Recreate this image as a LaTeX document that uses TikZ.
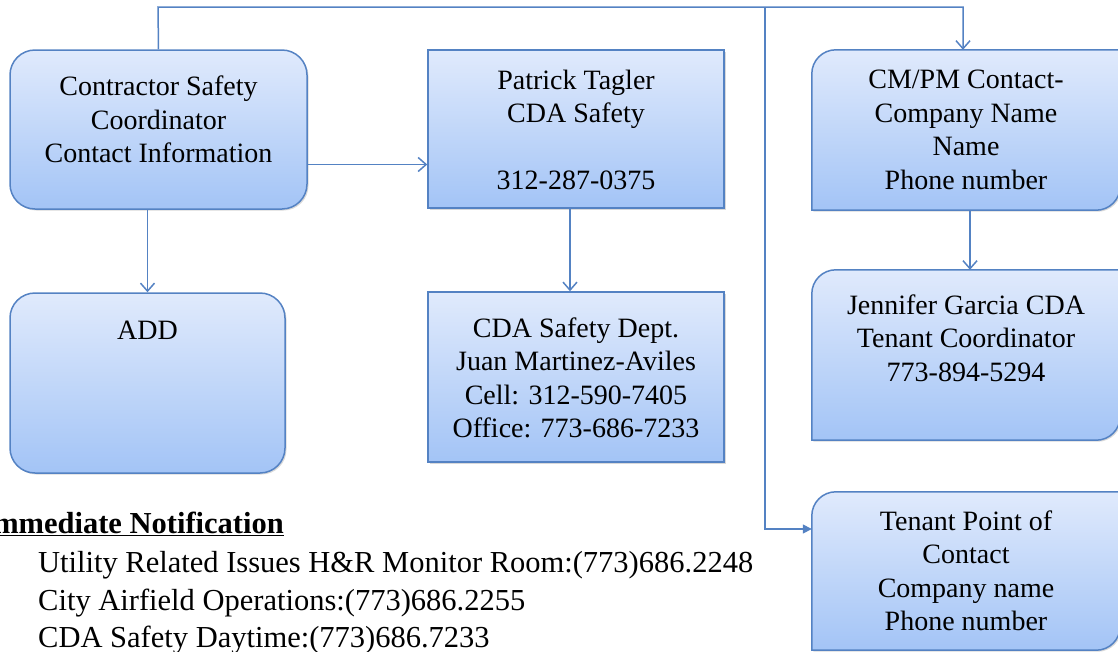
\documentclass[tikz,border=0pt]{standalone}
\usepackage{fontspec}
\setmainfont{Liberation Serif}
\usetikzlibrary{arrows.meta,shadows}

\definecolor{boxline}{RGB}{84,130,195}
\definecolor{boxtop}{RGB}{224,234,252}
\definecolor{boxbot}{RGB}{163,196,246}

\tikzset{
  boxshade/.style={draw=boxline, line width=1.5pt, top color=boxtop, bottom color=boxbot,
    drop shadow={shadow xshift=1.5pt, shadow yshift=-1.5pt, opacity=.25, fill=black!60}},
  sqbox/.style={rectangle, boxshade, inner sep=0pt},
  rndbox/.style={rectangle, boxshade, rounded corners=25pt, inner sep=0pt},
  holder/.style={rectangle, draw=none, inner sep=0pt},
  boxtext/.style={align=center, inner sep=0pt, font=\fontsize{28}{33.5}\selectfont},
  notetext/.style={inner sep=0pt, font=\fontsize{30.5}{37.5}\selectfont},
  link/.style={draw=boxline, line width=1.5pt, -{Straight Barb[length=8pt,width=14pt,line width=1.5pt]}},
  solidlink/.style={draw=boxline, line width=1.5pt, -{Triangle[length=9pt,width=9pt]}}
}

\begin{document}
\begin{tikzpicture}[x=1pt,y=-1pt]
    \useasboundingbox (0,0) rectangle (1118,651);

    % left column
    \node (coordinator) [rndbox, minimum width=297, minimum height=159] at (158.5,129.5) {};
    \node (coordinatortext) [boxtext] at (158.5,119.5) {Contractor Safety\\Coordinator\\Contact Information};
    \node (add) [rndbox, minimum width=275, minimum height=180] at (147.5,383) {};
    \node (addtext) [boxtext] at (147.5,330) {ADD};

    % middle column
    \node (tagler) [sqbox, minimum width=296, minimum height=158] at (576,129) {};
    \node (taglertext) [boxtext] at (576,130) {Patrick Tagler\\CDA Safety\\[33.5pt]312-287-0375};
    \node (dept) [sqbox, minimum width=296, minimum height=170] at (576,377) {};
    \node (depttext) [boxtext] at (576,378) {CDA Safety Dept.\\Juan Martinez-Aviles\\Cell: 312-590-7405\\Office: 773-686-7233};

    % right column, corners rounded on one diagonal only
    \node (cmpm) [holder, minimum width=308, minimum height=160] at (966,130) {};
    \node (jennifer) [holder, minimum width=308, minimum height=170] at (966,355) {};
    \node (tenant) [holder, minimum width=308, minimum height=158] at (966,571) {};
    \foreach \n in {cmpm,jennifer,tenant}
        \draw[boxshade] (\n.west) [rounded corners=24pt] -- (\n.north west) -- (\n.north)
            [sharp corners] -- (\n.north east) -- (\n.east)
            [rounded corners=24pt] -- (\n.south east) -- (\n.south)
            [sharp corners] -- (\n.south west) -- cycle;
    \node (cmpmtext) [boxtext] at (966,130) {CM/PM Contact-\\Company Name\\Name\\Phone number};
    \node (jennifertext) [boxtext] at (966,338) {Jennifer Garcia CDA\\Tenant Coordinator\\773-894-5294};
    \node (tenanttext) [boxtext] at (966,571) {Tenant Point of\\Contact\\Company name\\Phone number};

    % connectors
    \coordinate (topline) at (158,7);
    \coordinate (split) at (765,7);
    \draw[link] (coordinator.north) -- (topline) -| ([xshift=-3]cmpm.north);
    \draw[solidlink] (split) |- ([yshift=42]tenant.west);
    \draw[link] ([yshift=-35]coordinator.east) -- ([yshift=-35]coordinator.east -| tagler.west);
    \draw[link] (coordinator.south -| add.north) -- (add.north);
    \draw[link] ([xshift=-6]tagler.south) -- ([xshift=-6]dept.north);
    \draw[link] ([xshift=4]cmpm.south) -- ([xshift=4]jennifer.north);

    % notification list
    \node (notify) [notetext, anchor=base east] at (284,533) {\underline{\textbf{Immediate Notification}}};
    \node (utility) [notetext, anchor=base west] at (38,572) {Utility Related Issues H\&R Monitor Room:(773)686.2248};
    \node (airfield) [notetext, anchor=base west] at (38,610) {City Airfield Operations:(773)686.2255};
    \node (daytime) [notetext, anchor=base west] at (38,647) {CDA Safety Daytime:(773)686.7233};
\end{tikzpicture}
\end{document}
